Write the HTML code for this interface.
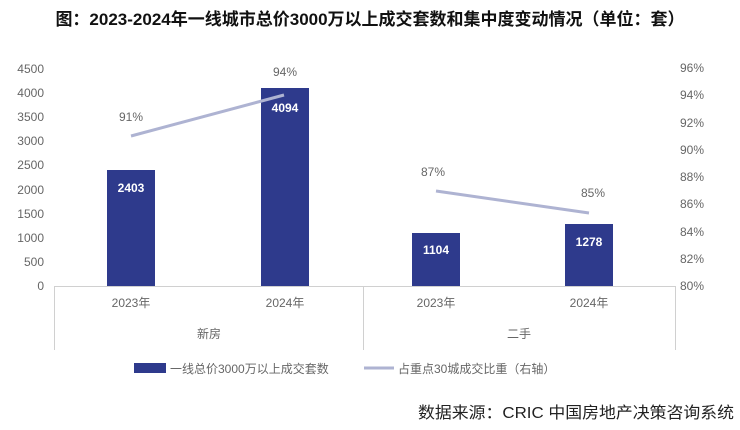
<!DOCTYPE html><html><head><meta charset="utf-8"><style>body{margin:0;background:#fff}svg{display:block}</style></head><body>
<svg width="740" height="430" xmlns="http://www.w3.org/2000/svg" font-family="Liberation Sans, Noto Sans CJK SC, sans-serif">
<text x="370" y="25" font-size="17" font-weight="bold" text-anchor="middle" fill="#111" font-family="Liberation Sans, Noto Sans CJK SC, sans-serif">图：2023-2024年一线城市总价3000万以上成交套数和集中度变动情况（单位：套）</text>
<g font-size="12" fill="#666" text-anchor="end">
<text x="44" y="290">0</text><text x="44" y="266">500</text><text x="44" y="242">1000</text><text x="44" y="218">1500</text><text x="44" y="194">2000</text><text x="44" y="169">2500</text><text x="44" y="145">3000</text><text x="44" y="121">3500</text><text x="44" y="97">4000</text><text x="44" y="73">4500</text>
</g>
<g font-size="12" fill="#666">
<text x="680" y="290">80%</text><text x="680" y="263">82%</text><text x="680" y="236">84%</text><text x="680" y="208">86%</text><text x="680" y="181">88%</text><text x="680" y="154">90%</text><text x="680" y="127">92%</text><text x="680" y="99">94%</text><text x="680" y="72">96%</text>
</g>
<g stroke="#d0d0d0" stroke-width="1"><line x1="54" y1="286.5" x2="676" y2="286.5"/><line x1="54.5" y1="286" x2="54.5" y2="350"/><line x1="363.5" y1="286" x2="363.5" y2="350"/><line x1="675.5" y1="286" x2="675.5" y2="350"/></g>
<g fill="#2e3a8c"><rect x="107" y="170" width="48" height="116"/><rect x="261" y="88" width="48" height="198"/><rect x="412" y="233" width="48" height="53"/><rect x="565" y="224" width="48" height="62"/></g>
<polyline points="131,136 284,95" stroke="#aeb3d2" stroke-width="3" fill="none"/>
<polyline points="436,191 589,213" stroke="#aeb3d2" stroke-width="3" fill="none"/>
<g font-size="12" font-weight="bold" fill="#fff" text-anchor="middle"><text x="131" y="192">2403</text><text x="285" y="112">4094</text><text x="436" y="254">1104</text><text x="589" y="246">1278</text></g>
<g font-size="12" fill="#666" text-anchor="middle"><text x="131" y="121">91%</text><text x="285" y="76">94%</text><text x="433" y="176">87%</text><text x="593" y="197">85%</text></g>
<g font-size="12" fill="#666" text-anchor="middle"><text x="131" y="307">2023年</text><text x="285" y="307">2024年</text><text x="436" y="307">2023年</text><text x="589" y="307">2024年</text><text x="209" y="338">新房</text><text x="519" y="338">二手</text></g>
<rect x="134" y="363" width="32" height="10" fill="#2e3a8c"/>
<text x="170" y="373" font-size="12" fill="#666">一线总价3000万以上成交套数</text>
<line x1="364" y1="368" x2="394" y2="368" stroke="#aeb3d2" stroke-width="3"/>
<text x="398" y="373" font-size="12" fill="#666">占重点30城成交比重（右轴）</text>
<text x="418" y="418" font-size="16" fill="#222" textLength="316" lengthAdjust="spacingAndGlyphs">数据来源：CRIC 中国房地产决策咨询系统</text>
</svg></body></html>
